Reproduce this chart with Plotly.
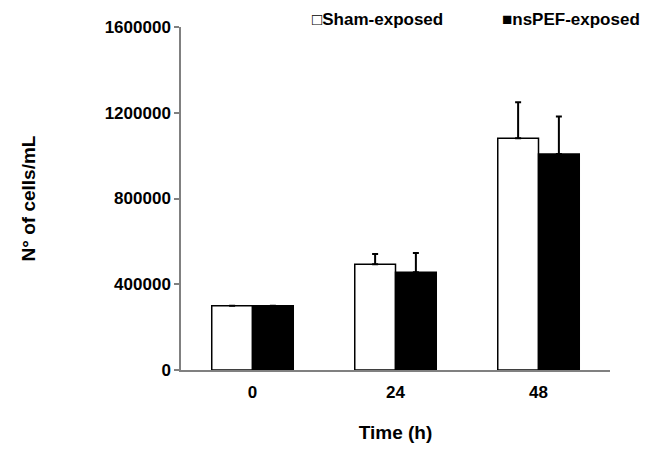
import plotly.graph_objects as go

categories = ["0", "24", "48"]
sham_values = [300000, 493000, 1081000]
sham_err = [None, 48000, 168000]
nspef_values = [300000, 456000, 1007000]
nspef_err = [None, 90000, 176000]
no_lower_err = [None, 0, 0]
y_ticks = [0, 400000, 800000, 1200000, 1600000]

FONT = "Liberation Sans, Arial, sans-serif"

fig = go.Figure()
fig.add_trace(go.Bar(
    x=categories, y=sham_values, name="Sham-exposed",
    marker=dict(color="white", line=dict(color="black", width=1.5)),
    error_y=dict(type="data", array=sham_err, arrayminus=no_lower_err, symmetric=False,
                 color="black", thickness=2, width=3),
))
fig.add_trace(go.Bar(
    x=categories, y=nspef_values, name="nsPEF-exposed",
    marker=dict(color="black", line=dict(color="black", width=1.5)),
    error_y=dict(type="data", array=nspef_err, arrayminus=no_lower_err, symmetric=False,
                 color="black", thickness=2, width=3),
))

# page body has an 8px margin, so the figure is drawn at (8, 8)
fig.update_layout(
    width=647, height=463,
    margin=dict(l=173, r=45, t=19, b=101),
    paper_bgcolor="white", plot_bgcolor="white",
    barmode="group", bargap=0.43, bargroupgap=0,
    showlegend=False,
    font=dict(family=FONT, size=17, color="black"),
)
fig.update_yaxes(
    automargin=False,
    range=[0, 1600000], tickvals=y_ticks, ticktext=[str(v) for v in y_ticks],
    showgrid=False, zeroline=False, showline=True, linecolor="#808080", linewidth=1.5,
    ticks="outside", ticklen=5, tickcolor="#808080", tickwidth=1.5,
    tickfont=dict(family=FONT, size=17, color="black", weight="bold"),
    title=dict(text="<b>N° of cells/mL</b>", font=dict(family=FONT, size=19), standoff=64),
)
fig.update_xaxes(
    automargin=False,
    showgrid=False, showline=True, linecolor="#808080", linewidth=1.5, ticks="",
    ticklabelstandoff=6,
    tickfont=dict(family=FONT, size=17, color="black", weight="bold"),
    title=dict(text="<b>Time (h)</b>", font=dict(family=FONT, size=19), standoff=25),
)

legend_y = 1 + (27 - 20) / 343
fig.add_annotation(x=(310 - 181) / 429, y=legend_y, xref="paper", yref="paper",
                   text="<b>□Sham-exposed</b>", showarrow=False, xanchor="left", yanchor="middle",
                   font=dict(family=FONT, size=17))
fig.add_annotation(x=(500 - 181) / 429, y=legend_y, xref="paper", yref="paper",
                   text="<b>■nsPEF-exposed</b>", showarrow=False, xanchor="left", yanchor="middle",
                   font=dict(family=FONT, size=17))

fig.write_html("out.html")
